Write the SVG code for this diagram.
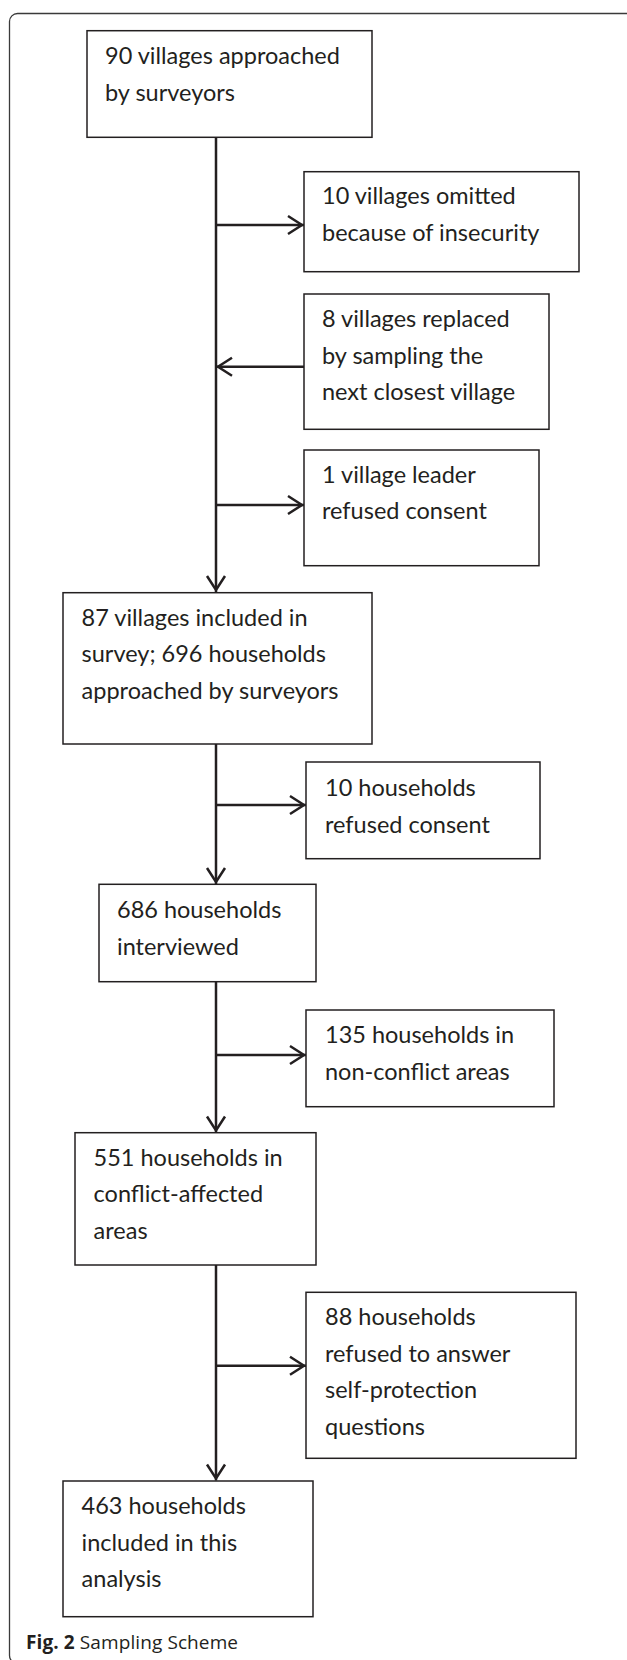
<svg xmlns="http://www.w3.org/2000/svg" width="627" height="1660" viewBox="0 0 627 1660">
<style>
.box{fill:#fff;stroke:#231f20;stroke-width:1.5}
.t{font-family:Lato,"Liberation Sans",sans-serif;font-size:23.5px;fill:#231f20}
.c{stroke:#231f20;stroke-width:2.5;fill:none}
.cap{font-family:"Open Sans","Noto Sans",sans-serif;font-size:19px;fill:#231f20}
</style>
<defs>
<marker id="ah" markerUnits="userSpaceOnUse" markerWidth="22" markerHeight="22" viewBox="0 0 22 22" refX="19" refY="11" orient="auto">
<path d="M3,2 L17,11 L3,20" fill="none" stroke="#231f20" stroke-width="2.5"/>
</marker>
</defs>
<rect width="627" height="1660" fill="#fff"/>
<rect x="9.5" y="13.5" width="640" height="1650" rx="8" fill="none" stroke="#3a3a3a" stroke-width="1.3"/>
<g id="connectors">
<line class="c" x1="216" y1="137.3" x2="216" y2="592" marker-end="url(#ah)"/>
<line class="c" x1="216" y1="225" x2="304" y2="225" marker-end="url(#ah)"/>
<line class="c" x1="304" y1="366.7" x2="216" y2="366.7" marker-end="url(#ah)"/>
<line class="c" x1="216" y1="505" x2="304" y2="505" marker-end="url(#ah)"/>
<line class="c" x1="216" y1="744" x2="216" y2="884" marker-end="url(#ah)"/>
<line class="c" x1="216" y1="805" x2="306" y2="805" marker-end="url(#ah)"/>
<line class="c" x1="216" y1="981.7" x2="216" y2="1132.5" marker-end="url(#ah)"/>
<line class="c" x1="216" y1="1055" x2="306" y2="1055" marker-end="url(#ah)"/>
<line class="c" x1="216" y1="1265" x2="216" y2="1480.5" marker-end="url(#ah)"/>
<line class="c" x1="216" y1="1365.7" x2="306" y2="1365.7" marker-end="url(#ah)"/>
</g>
<g id="n1"><rect class="box" x="87" y="30.7" width="285" height="106.6"/>
<text class="t" x="105" y="64">90 villages approached</text><text class="t" x="105" y="100.5">by surveyors</text></g>
<g id="n2"><rect class="box" x="304" y="171.7" width="275" height="100"/>
<text class="t" x="322" y="204">10 villages omitted</text><text class="t" x="322" y="240.7">because of insecurity</text></g>
<g id="n3"><rect class="box" x="304" y="294" width="245" height="135.3"/>
<text class="t" x="322" y="327">8 villages replaced</text><text class="t" x="322" y="363.5">by sampling the</text><text class="t" x="322" y="400">next closest village</text></g>
<g id="n4"><rect class="box" x="304" y="450" width="235" height="115.7"/>
<text class="t" x="322" y="482.7">1 village leader</text><text class="t" x="322" y="519.3">refused consent</text></g>
<g id="n5"><rect class="box" x="63" y="592.7" width="309" height="151.3"/>
<text class="t" x="81.6" y="626">87 villages included in</text><text class="t" x="81.6" y="662">survey; 696 households</text><text class="t" x="81.6" y="698.5">approached by surveyors</text></g>
<g id="n6"><rect class="box" x="306" y="762" width="234" height="96.7"/>
<text class="t" x="325" y="796">10 households</text><text class="t" x="325" y="832.7">refused consent</text></g>
<g id="n7"><rect class="box" x="99" y="884.3" width="217" height="97.4"/>
<text class="t" x="117" y="918.3">686 households</text><text class="t" x="117" y="955">interviewed</text></g>
<g id="n8"><rect class="box" x="306" y="1010" width="248" height="96.7"/>
<text class="t" x="325" y="1043.3">135 households in</text><text class="t" x="325" y="1080">non-conflict areas</text></g>
<g id="n9"><rect class="box" x="75" y="1132.7" width="241" height="132.3"/>
<text class="t" x="93.6" y="1166">551 households in</text><text class="t" x="93.6" y="1202.3">conflict-affected</text><text class="t" x="93.6" y="1238.7">areas</text></g>
<g id="n10"><rect class="box" x="306" y="1292.3" width="270" height="166"/>
<text class="t" x="325" y="1325.3">88 households</text><text class="t" x="325" y="1361.7">refused to answer</text><text class="t" x="325" y="1398.3">self-protection</text><text class="t" x="325" y="1435">questions</text></g>
<g id="n11"><rect class="box" x="63" y="1481" width="250" height="135.7"/>
<text class="t" x="81.6" y="1514.3">463 households</text><text class="t" x="81.6" y="1551">included in this</text><text class="t" x="81.6" y="1586.7">analysis</text></g>
<g id="caption">
<text class="cap" x="26" y="1648.5" textLength="212" lengthAdjust="spacing"><tspan font-weight="bold">Fig. 2</tspan> Sampling Scheme</text>
</g>
</svg>
